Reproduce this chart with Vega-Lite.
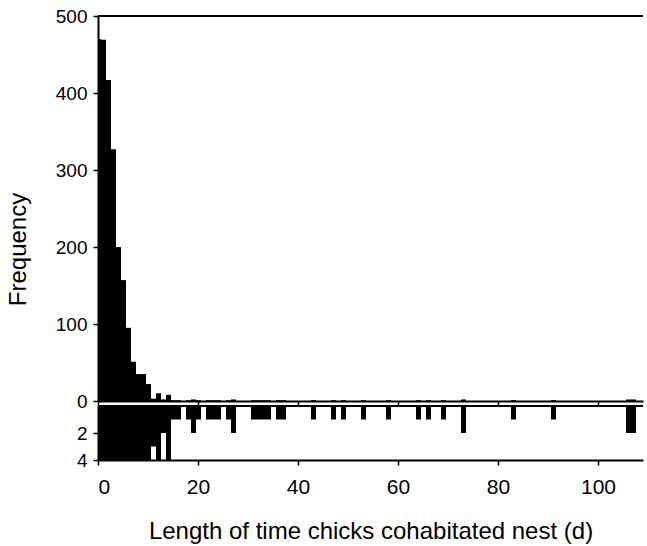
{
  "$schema": "https://vega.github.io/schema/vega-lite/v6.json",
  "background": "white",
  "padding": {"left": 6, "top": 7, "right": 0, "bottom": 2},
  "spacing": 5,
  "bounds": "flush",
  "data": {"values": [
    {"day": 0, "n": 470}, {"day": 1, "n": 469}, {"day": 2, "n": 417}, {"day": 3, "n": 327},
    {"day": 4, "n": 200}, {"day": 5, "n": 157}, {"day": 6, "n": 95}, {"day": 7, "n": 51},
    {"day": 8, "n": 35}, {"day": 9, "n": 35}, {"day": 10, "n": 22}, {"day": 11, "n": 3},
    {"day": 12, "n": 10}, {"day": 13, "n": 2}, {"day": 14, "n": 8}, {"day": 15, "n": 1},
    {"day": 16, "n": 1}, {"day": 18, "n": 1}, {"day": 19, "n": 2}, {"day": 20, "n": 1},
    {"day": 22, "n": 1}, {"day": 23, "n": 1}, {"day": 24, "n": 1}, {"day": 26, "n": 1},
    {"day": 27, "n": 2}, {"day": 31, "n": 1}, {"day": 32, "n": 1}, {"day": 33, "n": 1},
    {"day": 34, "n": 1}, {"day": 36, "n": 1}, {"day": 37, "n": 1}, {"day": 43, "n": 1},
    {"day": 47, "n": 1}, {"day": 49, "n": 1}, {"day": 53, "n": 1}, {"day": 58, "n": 1},
    {"day": 64, "n": 1}, {"day": 66, "n": 1}, {"day": 69, "n": 1}, {"day": 73, "n": 2},
    {"day": 83, "n": 1}, {"day": 91, "n": 1}, {"day": 106, "n": 2}, {"day": 107, "n": 2}
  ]},
  "config": {
    "view": {"stroke": null},
    "font": "Liberation Sans",
    "axis": {
      "grid": false,
      "domainColor": "black", "domainWidth": 2,
      "tickColor": "black", "tickWidth": 1.5,
      "labelColor": "black", "titleColor": "black",
      "labelFont": "Liberation Sans", "titleFont": "Liberation Sans",
      "titleFontWeight": "normal"
    }
  },
  "vconcat": [
    {
      "width": 545,
      "height": 385,
      "layer": [
        {
          "mark": {"type": "bar", "color": "black", "clip": true, "binSpacing": 0},
          "encoding": {
            "x": {
              "field": "day", "type": "quantitative",
              "bin": {"step": 1, "extent": [-0.5, 109.5], "nice": false},
              "scale": {"domain": [0, 109]},
              "axis": {"values": [0, 20, 40, 60, 80, 100], "labels": false, "title": null, "tickSize": 5}
            },
            "y": {
              "aggregate": "sum", "field": "n", "type": "quantitative",
              "scale": {"domain": [0, 500], "nice": false},
              "axis": {
                "values": [0, 100, 200, 300, 400, 500],
                "title": "Frequency", "titleFontSize": 24,
                "titleY": 233, "titleX": -68,
                "labelFontSize": 19, "tickSize": 5, "labelPadding": 6
              }
            }
          }
        },
        {
          "mark": {"type": "rule", "color": "black", "strokeWidth": 2},
          "encoding": {"y": {"datum": 500}}
        }
      ]
    },
    {
      "width": 545,
      "height": 54,
      "layer": [
        {
          "mark": {"type": "bar", "color": "black", "clip": true, "binSpacing": 0},
          "encoding": {
            "x": {
              "field": "day", "type": "quantitative",
              "bin": {"step": 1, "extent": [-0.5, 109.5], "nice": false},
              "scale": {"domain": [0, 109]},
              "axis": {
                "values": [0, 20, 40, 60, 80, 100], "format": "d",
                "title": "Length of time chicks cohabitated nest (d)",
                "titleFontSize": 24, "titlePadding": 22,
                "labelFontSize": 21, "labelPadding": 11, "tickSize": 5
              }
            },
            "y": {
              "aggregate": "sum", "field": "n", "type": "quantitative",
              "scale": {"domain": [0, 4], "nice": false, "reverse": true, "clamp": true},
              "axis": {"values": [2, 4], "title": null, "labelFontSize": 19, "tickSize": 5, "labelPadding": 6}
            }
          }
        },
        {
          "mark": {"type": "rule", "color": "black", "strokeWidth": 2},
          "encoding": {"y": {"datum": 0}}
        }
      ]
    }
  ]
}
